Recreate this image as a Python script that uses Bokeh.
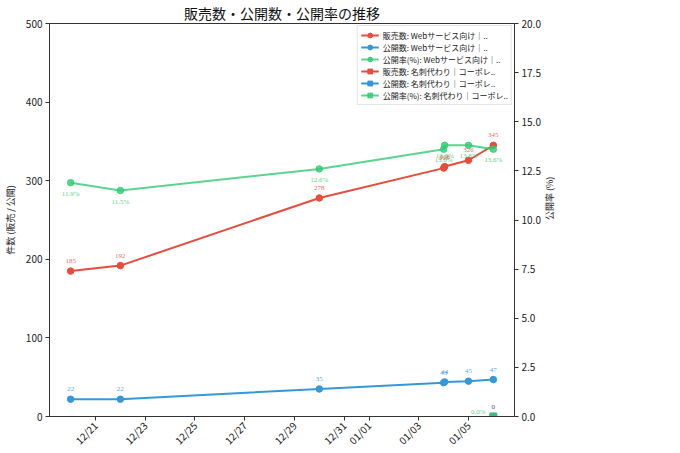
from datetime import datetime
from bokeh.plotting import figure
from bokeh.models import (Range1d, LinearAxis, DatetimeTickFormatter, FixedTicker, Legend,
                          LegendItem, ColumnDataSource, LabelSet, Label, NumeralTickFormatter,
                          SingleIntervalTicker)
from bokeh.embed import file_html
from bokeh.resources import INLINE

# ---- data ----
web_dates = [datetime(2025, 12, 20), datetime(2025, 12, 22), datetime(2025, 12, 30),
             datetime(2026, 1, 4, 0), datetime(2026, 1, 4, 1), datetime(2026, 1, 5),
             datetime(2026, 1, 6)]
web_sales = [185, 192, 278, 316, 318, 326, 345]
web_public = [22, 22, 35, 43, 44, 45, 47]
web_rate = [11.9, 11.5, 12.6, 13.6, 13.8, 13.8, 13.6]

card_dates = [datetime(2026, 1, 6)]
card_sales = [0]
card_public = [0]
card_rate = [0.0]

tick_dates = [datetime(2025, 12, 21), datetime(2025, 12, 23), datetime(2025, 12, 25),
              datetime(2025, 12, 27), datetime(2025, 12, 29), datetime(2025, 12, 31),
              datetime(2026, 1, 1), datetime(2026, 1, 3), datetime(2026, 1, 5)]

legend_labels = [
    "販売数: Webサービス向け｜..",
    "公開数: Webサービス向け｜..",
    "公開率(%): Webサービス向け｜..",
    "販売数: 名刺代わり｜コーポレ..",
    "公開数: 名刺代わり｜コーポレ..",
    "公開率(%): 名刺代わり｜コーポレ..",
]
title_text = "販売数・公開数・公開率の推移"
x_label = "日付"
y_label = "件数 (販売 / 公開)"
y2_label = "公開率 (%)"

RED = "#e74c3c"
BLUE = "#3498db"
GREEN = "#2ecc71"
FONT = "Noto Sans CJK JP"
AX = "#333333"

x_start = datetime(2025, 12, 19, 3, 36)
x_end = datetime(2026, 1, 6, 20, 24)

EPOCH = datetime(1970, 1, 1)
def to_ms(d):
    return (d - EPOCH).total_seconds() * 1000.0

p = figure(frame_width=465, frame_height=393, x_axis_type="datetime",
           x_range=Range1d(x_start, x_end), y_range=Range1d(0, 500),
           output_backend="svg", toolbar_location=None,
           min_border_left=37, min_border_right=120, min_border_top=0, min_border_bottom=0)
p.extra_y_ranges = {"rate": Range1d(0, 20)}

p.title.text = title_text
p.title.align = "center"
p.title.text_font = FONT
p.title.text_font_size = "14px"
p.title.text_font_style = "normal"
p.title.text_color = "#111111"
p.title.standoff = 1

p.xgrid.visible = False
p.ygrid.visible = False
p.outline_line_color = AX
p.outline_line_width = 1

# axes styling
xa = p.xaxis[0]
xa.ticker = FixedTicker(ticks=[to_ms(d) for d in tick_dates])
xa.formatter = DatetimeTickFormatter(days="%m/%d", months="%m/%d", hours="%m/%d")
xa.major_label_orientation = 0.785
ya = p.yaxis[0]
ya.ticker = SingleIntervalTicker(interval=100)
ya.axis_label = y_label

ra = LinearAxis(y_range_name="rate", axis_label=y2_label,
                ticker=SingleIntervalTicker(interval=2.5),
                formatter=NumeralTickFormatter(format="0.0"))
p.add_layout(ra, "right")

for ax in [xa, ya, ra]:
    ax.axis_line_color = AX
    ax.major_tick_line_color = AX
    ax.minor_tick_line_color = None
    ax.major_tick_in = 0
    ax.major_tick_out = 4
    ax.major_label_text_font = FONT
    ax.major_label_text_font_size = "10px"
    ax.major_label_text_color = "#222222"
    ax.major_label_standoff = 3
    ax.axis_label_text_font = FONT
    ax.axis_label_text_font_size = "9px"
    ax.axis_label_text_font_style = "normal"
    ax.axis_label_text_color = "#222222"
    ax.axis_label_standoff = 6
ra.axis_label_orientation = 1.5708

# ---- series ----
web = ColumnDataSource(dict(x=web_dates, s=web_sales, pub=web_public, r=web_rate,
                            sl=[str(v) for v in web_sales],
                            pl=[str(v) for v in web_public],
                            rl=[f"{v:.1f}%" for v in web_rate]))
card = ColumnDataSource(dict(x=card_dates, s=card_sales, pub=card_public, r=card_rate,
                             sl=[str(v) for v in card_sales],
                             pl=[str(v) for v in card_public],
                             rl=[f"{v:.1f}%" for v in card_rate]))

items = []
specs = [
    (web, "s", RED, "circle", "default", 1.0),
    (web, "pub", BLUE, "circle", "default", 1.0),
    (web, "r", GREEN, "circle", "rate", 0.8),
    (card, "s", RED, "square", "default", 1.0),
    (card, "pub", BLUE, "square", "default", 1.0),
    (card, "r", GREEN, "square", "rate", 0.8),
]
for (src, col, color, marker, rng, alpha), lab in zip(specs, legend_labels):
    ln = p.line("x", col, source=src, line_color=color, line_width=2, line_alpha=alpha,
                y_range_name=rng)
    sc = p.scatter("x", col, source=src, marker=marker, size=6.5, fill_color=color,
                   line_color=color, fill_alpha=alpha, line_alpha=alpha, y_range_name=rng)
    items.append(LegendItem(label=lab, renderers=[ln, sc]))

# data labels
label_specs = [("s", "sl", RED, "default", 0, 10),
               ("pub", "pl", BLUE, "default", 0, 10),
               ("r", "rl", GREEN, "rate", 0, -11)]
for src in [web, card]:
    for col, txt, color, rng, xoff, yoff in label_specs:
        if src is card and col == "r":
            xoff, yoff = -15, 5   # kept inside the frame so it is not clipped
        ls = LabelSet(x="x", y=col, text=txt, source=src, y_range_name=rng,
                      x_offset=xoff, y_offset=yoff, text_align="center",
                      text_baseline="middle", text_font=FONT, text_font_size="7px",
                      text_color=color, text_alpha=0.85)
        p.add_layout(ls)

# x axis label (cut off at the window edge, as in the reference)
mid = x_start + (x_end - x_start) / 2
p.add_layout(Label(x=mid, y=0, y_offset=-34, text=x_label, text_align="center",
                   text_baseline="middle", text_font=FONT, text_font_size="9px",
                   text_color="#222222"))

legend = Legend(items=items, location="top_right", label_text_font=FONT,
                label_text_font_size="8px", label_text_color="#222222",
                glyph_width=18, glyph_height=12, label_height=12, label_standoff=4,
                spacing=0, padding=3, margin=2, border_line_color="#cccccc",
                background_fill_color="white", background_fill_alpha=0.9)
p.add_layout(legend, "center")

open("out.html", "w").write(file_html(p, INLINE))
